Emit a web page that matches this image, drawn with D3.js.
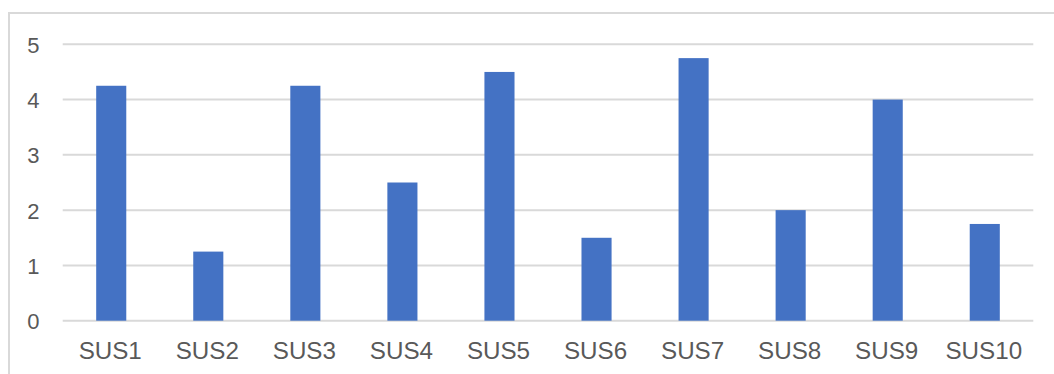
<!DOCTYPE html>
<html>
<head>
<meta charset="utf-8">
<script src="https://cdn.jsdelivr.net/npm/d3@7/dist/d3.min.js"></script>
<style>
  html, body { margin: 0; padding: 0; background: #fff; }
  svg { display: block; }
</style>
</head>
<body>
<svg id="chart" width="1054" height="374"></svg>
<script>
// SUS item scores
const categories = ["SUS1", "SUS2", "SUS3", "SUS4", "SUS5", "SUS6", "SUS7", "SUS8", "SUS9", "SUS10"];
const scores = [4.25, 1.25, 4.25, 2.5, 4.5, 1.5, 4.75, 2, 4, 1.75];
const yTicks = [0, 1, 2, 3, 4, 5];

const svg = d3.select("#chart");
const plot = { left: 62.7, right: 1033.3, top: 44.3, bottom: 320.7 };

// Chart frame (runs past the right and bottom edges)
svg.append("rect")
  .attr("x", 9).attr("y", 13)
  .attr("width", 1100).attr("height", 420)
  .attr("fill", "none")
  .attr("stroke", "#d9d9d9")
  .attr("stroke-width", 2);

const x = d3.scaleBand()
  .domain(categories)
  .range([plot.left, plot.right])
  .paddingInner(0.69)
  .paddingOuter(0.345);

const y = d3.scaleLinear()
  .domain([0, 5])
  .range([plot.bottom, plot.top]);

// Horizontal gridlines
svg.append("g")
  .selectAll("line")
  .data(yTicks)
  .join("line")
  .attr("x1", plot.left).attr("x2", plot.right)
  .attr("y1", d => y(d)).attr("y2", d => y(d))
  .attr("stroke", "#d9d9d9")
  .attr("stroke-width", 2);

// Y axis labels
const yAxis = d3.axisLeft(y).tickValues(yTicks).tickSize(0).tickPadding(0).tickFormat(d3.format("d"));
const yg = svg.append("g")
  .attr("transform", "translate(39.5,0)")
  .call(yAxis);
yg.select(".domain").remove();
yg.selectAll("text")
  .attr("font-family", "Liberation Sans, Arial, sans-serif")
  .attr("font-size", 22)
  .attr("fill", "#595959")
  .attr("dy", "0.36em");

// Bars
svg.append("g")
  .selectAll("rect")
  .data(categories.map((c, i) => ({ c, v: scores[i] })))
  .join("rect")
  .attr("x", d => x(d.c))
  .attr("width", x.bandwidth())
  .attr("y", d => y(d.v))
  .attr("height", d => y(0) - y(d.v))
  .attr("fill", "#4472c4");

// X axis labels
const xAxis = d3.axisBottom(x).tickSize(0).tickPadding(0);
const xg = svg.append("g")
  .attr("transform", "translate(-1,359)")
  .call(xAxis);
xg.select(".domain").remove();
xg.selectAll("text")
  .attr("font-family", "Liberation Sans, Arial, sans-serif")
  .attr("font-size", 24.2)
  .attr("fill", "#595959")
  .attr("dy", "0");
</script>
</body>
</html>
